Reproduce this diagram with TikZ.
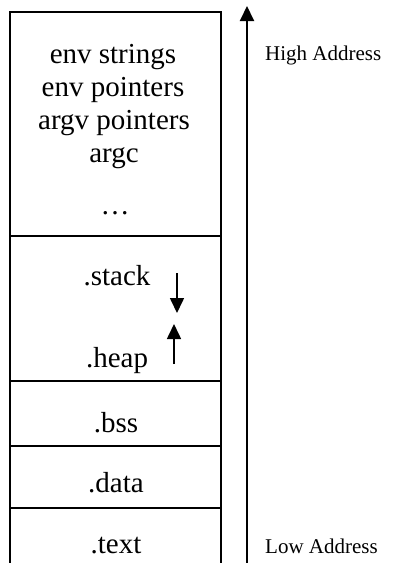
\documentclass[tikz,border=0pt]{standalone}
\usepackage{fontspec}
\setmainfont{Liberation Serif}
\usetikzlibrary{arrows.meta}
\begin{document}
\begin{tikzpicture}[x=1pt,y=-1pt,
  frame/.style={line width=2pt},
  seg/.style={anchor=base,inner sep=0pt,font=\fontsize{29}{33}\selectfont},
  addr/.style={anchor=base west,inner sep=0pt,font=\fontsize{21}{24}\selectfont},
  arr/.style={line width=2pt,-{Triangle[length=15pt,width=14pt]}}]
\useasboundingbox[fill=white] (0,0) rectangle (393,563);
% memory column
\draw[frame] (10,563) -- (10,12) -- (221,12) -- (221,563);
\draw[frame] (10,236) -- (221,236);
\draw[frame] (10,381) -- (221,381);
\draw[frame] (10,446) -- (221,446);
\draw[frame] (10,508) -- (221,508);
% texts
\node[seg] (envs) at (113,63) {env strings};
\node[seg] (envp) at (113,96) {env pointers};
\node[seg] (argvp) at (114,129) {argv pointers};
\node[seg] (argc) at (114,162) {argc};
\node[seg] (dots) at (115,214) {\dots};
\node[seg] (stack) at (117,285) {.stack};
\node[seg] (heap) at (117,367) {.heap};
\node[seg] (bss) at (116,432) {.bss};
\node[seg] (data) at (116,492) {.data};
\node[seg] (text) at (116,553) {.text};
\node[addr] (high) at (265,60) {High Address};
\node[addr] (low) at (265,553) {Low Address};
% arrows
\coordinate (abot) at (247,563);
\coordinate (atop) at (247,6);
\draw[arr] (abot) -- (atop);
\coordinate (s1) at (177,273);
\coordinate (s2) at (177,313);
\draw[arr,line width=1.6pt] (s1) -- (s2);
\coordinate (h1) at (174,364);
\coordinate (h2) at (174,324);
\draw[arr,line width=1.6pt] (h1) -- (h2);
\end{tikzpicture}
\end{document}
